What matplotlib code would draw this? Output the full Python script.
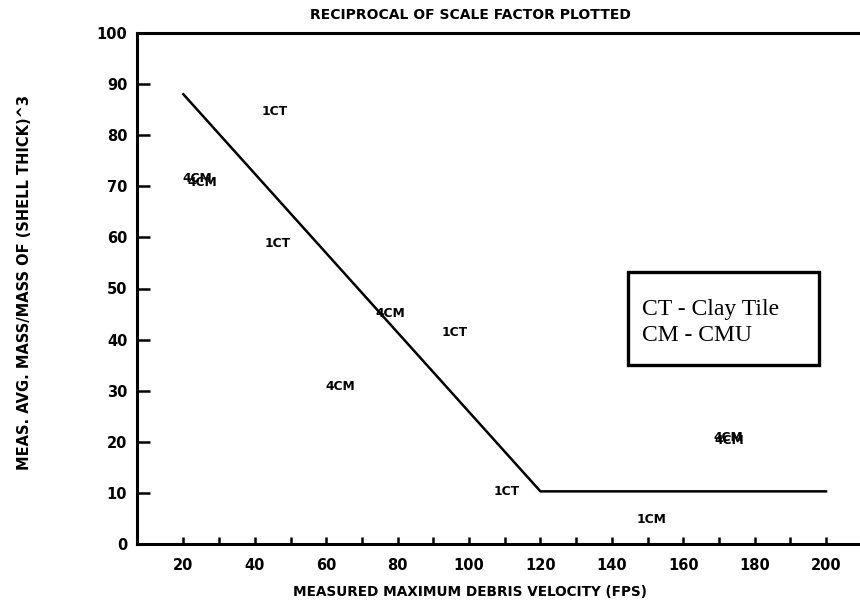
import matplotlib
matplotlib.use("Agg")
import matplotlib.pyplot as plt
from matplotlib.patches import Rectangle

# Data
line_x = [20, 120, 200]
line_y = [88, 10.3, 10.3]

label_text = ["1CT", "4CM", "4CM", "1CT", "4CM", "1CT", "4CM", "1CT", "1CM", "4CM", "4CM"]
label_x = [45.5, 24.0, 25.2, 46.5, 78, 96, 64, 110.5, 151, 172.6, 173.0]
label_y = [84.7, 71.6, 70.8, 58.8, 45.2, 41.3, 30.8, 10.3, 4.7, 20.8, 20.2]

x_ticks_major = [20, 40, 60, 80, 100, 120, 140, 160, 180, 200]
x_ticks_minor = [30, 50, 70, 90, 110, 130, 150, 170, 190]
y_ticks = [0, 10, 20, 30, 40, 50, 60, 70, 80, 90, 100]

legend_lines = ["CT - Clay Tile", "CM - CMU"]

W, H = 860, 606
fig = plt.figure(figsize=(W / 100, H / 100), dpi=100)
ax = fig.add_axes([137 / W, 1 - 544 / H, (W - 137) / W, (544 - 33) / H])
ax.set_xlim(7, 209.5)
ax.set_ylim(0, 100)

ax.plot(line_x, line_y, color="black", lw=1.8)

for t, x, y in zip(label_text, label_x, label_y):
    ax.text(x, y, t, ha="center", va="center", fontsize=8.8, fontweight="bold",
            family="DejaVu Sans")

for s in ["left", "bottom", "top"]:
    ax.spines[s].set_linewidth(2.2)
ax.spines["right"].set_visible(False)

ax.set_xticks(x_ticks_major)
ax.set_xticks(x_ticks_minor, minor=True)
ax.set_yticks(y_ticks)
ax.tick_params(axis="x", which="both", direction="in", length=5, width=1.8, pad=10,
               labelsize=10.5)
ax.tick_params(axis="y", direction="in", length=9, width=1.8, pad=7, labelsize=10.5)
for lab in ax.get_xticklabels() + ax.get_yticklabels():
    lab.set_fontweight("bold")

fig.text(470 / W, 1 - 15 / H, "RECIPROCAL OF SCALE FACTOR PLOTTED", ha="center",
         va="center", fontsize=10, fontweight="bold")
fig.text(470 / W, 1 - 592 / H, "MEASURED MAXIMUM DEBRIS VELOCITY (FPS)", ha="center",
         va="center", fontsize=9.8, fontweight="bold")
fig.text(25 / W, 1 - 283 / H, "MEAS. AVG. MASS/MASS OF (SHELL THICK)^3", ha="center",
         va="center", rotation=90, fontsize=10.5, fontweight="bold")

# legend box
ax.add_patch(Rectangle((0.679, 0.350), 0.943 - 0.679, 0.532 - 0.350,
                       transform=ax.transAxes, facecolor="white", edgecolor="black",
                       linewidth=2.4, zorder=3))
ax.text(0.698, 0.458, legend_lines[0], transform=ax.transAxes, ha="left",
        va="center", fontsize=17, family="Liberation Serif", zorder=4)
ax.text(0.698, 0.409, legend_lines[1], transform=ax.transAxes, ha="left",
        va="center", fontsize=17, family="Liberation Serif", zorder=4)

fig.savefig("out.png", dpi=100)
